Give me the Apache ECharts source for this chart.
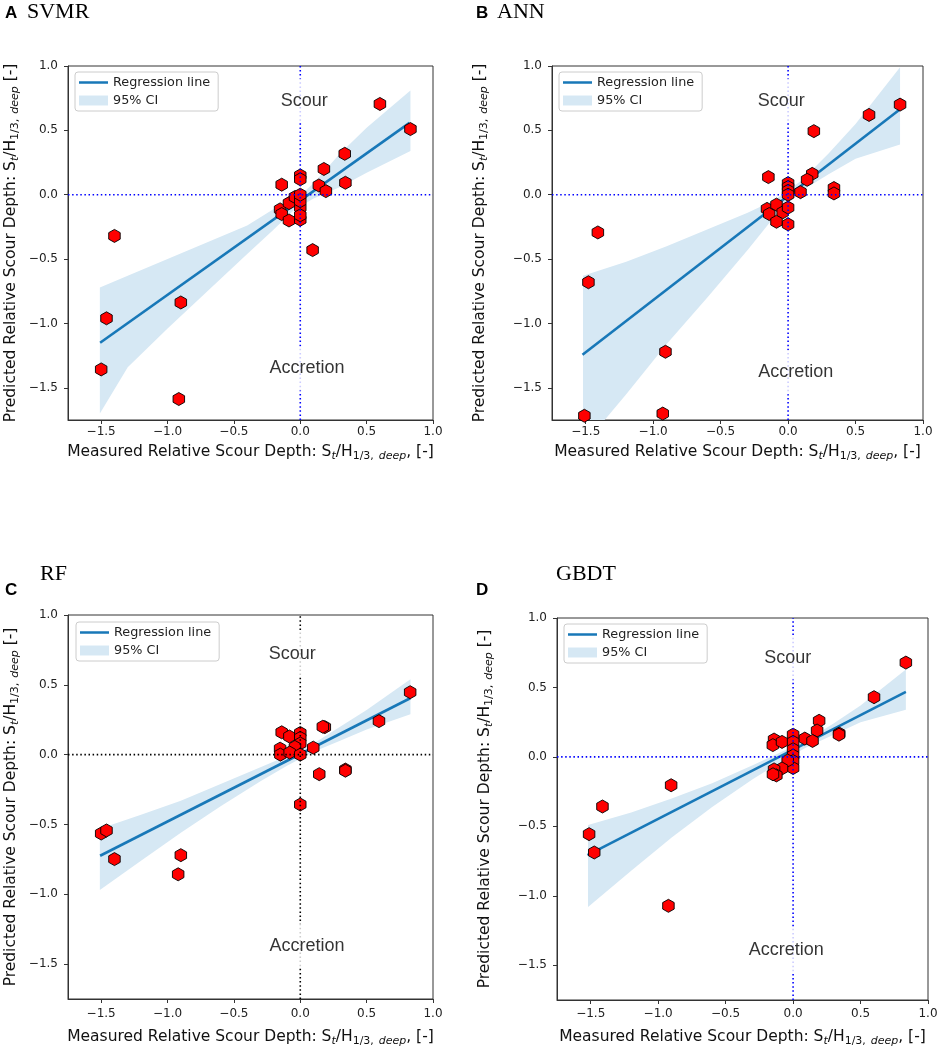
<!DOCTYPE html>
<html><head><meta charset="utf-8">
<script src="https://cdn.jsdelivr.net/npm/echarts@6/dist/echarts.min.js"></script>
<style>html,body{margin:0;padding:0;background:#fff}#c{width:941px;height:1049px}</style>
</head><body><div id="c"></div><script>
// ---- ticks ----
const tickValues = [-1.5, -1.0, -0.5, 0.0, 0.5, 1.0];

// ---- A: SVMR ----
const svmrMeasured  = [0.60, 0.83, 0.335, 0.178, -0.14, 0.0, 0.0, 0.14, 0.193, 0.34, -0.152, -0.14, -0.085, -0.04, -0.085, 0.0, 0.0, 0.0, 0.0, 0.0, 0.093, -1.40, -1.46, -0.90, -1.50, -0.915];
const svmrPredicted = [0.705, 0.51, 0.318, 0.20, 0.078, 0.15, 0.12, 0.072, 0.028, 0.093, -0.114, -0.15, -0.065, -0.018, -0.20, -0.194, -0.10, -0.16, -0.05, 0.0, -0.43, -0.32, -0.96, -0.837, -1.357, -1.587];
const svmrRegX = [-1.508, 0.823];
const svmrRegY = [-1.15, 0.558];
const svmrCiX     = [-1.51, -1.3, -1.0, -0.7, -0.4, -0.2, -0.05, 0.1, 0.3, 0.5, 0.83];
const svmrCiUpper = [-0.72, -0.63, -0.50, -0.37, -0.24, -0.11, -0.05, 0.09, 0.32, 0.52, 0.81];
const svmrCiLower = [-1.70, -1.34, -1.04, -0.75, -0.46, -0.27, -0.12, -0.03, 0.06, 0.17, 0.34];

// ---- B: ANN ----
const annMeasured  = [0.83, 0.60, 0.191, -0.146, 0.179, 0.141, 0.0, 0.0, 0.0, 0.0, 0.092, 0.34, 0.34, -0.156, -0.14, -0.086, -0.04, 0.0, -0.086, 0.0, -1.41, -1.48, -0.909, -1.51, -0.929];
const annPredicted = [0.70, 0.62, 0.494, 0.137, 0.162, 0.116, 0.09, 0.06, 0.03, 0.0, 0.02, 0.052, 0.01, -0.11, -0.15, -0.077, -0.137, -0.10, -0.21, -0.23, -0.293, -0.68, -1.22, -1.717, -1.70];
const annRegX = [-1.524, 0.83];
const annRegY = [-1.243, 0.664];
const annCiX     = [-1.52, -1.2, -0.9, -0.6, -0.3, -0.1, 0.1, 0.3, 0.5, 0.83];
const annCiUpper = [-0.63, -0.52, -0.40, -0.27, -0.14, -0.04, 0.11, 0.32, 0.55, 0.99];
const annCiLower = [-1.95, -1.55, -1.16, -0.80, -0.43, -0.17, 0.03, 0.16, 0.28, 0.39];

// ---- C: RF ----
const rfMeasured  = [0.828, 0.593, 0.185, 0.17, -0.14, -0.082, 0.0, 0.0, 0.0, -0.04, 0.098, -0.152, -0.15, -0.08, 0.0, 0.143, 0.34, 0.34, 0.0, -1.50, -1.46, -1.40, -0.90, -0.92];
const rfPredicted = [0.447, 0.24, 0.197, 0.20, 0.16, 0.13, 0.155, 0.12, 0.08, 0.055, 0.05, 0.043, 0.0, 0.015, 0.0, -0.14, -0.107, -0.115, -0.357, -0.565, -0.543, -0.748, -0.72, -0.857];
const rfRegX = [-1.508, 0.828];
const rfRegY = [-0.724, 0.404];
const rfCiX     = [-1.51, -1.2, -0.9, -0.6, -0.3, -0.1, 0.1, 0.3, 0.5, 0.83];
const rfCiUpper = [-0.53, -0.43, -0.33, -0.21, -0.09, -0.01, 0.08, 0.20, 0.32, 0.54];
const rfCiLower = [-0.97, -0.76, -0.56, -0.37, -0.19, -0.08, 0.02, 0.10, 0.18, 0.29];

// ---- D: GBDT ----
const gbdtMeasured  = [0.836, 0.60, 0.193, 0.178, 0.342, 0.34, 0.087, 0.144, -0.141, -0.15, -0.082, 0.0, 0.0, 0.0, 0.0, 0.0, 0.0, -0.04, -0.082, -0.141, -0.124, -0.149, -0.904, -1.413, -1.512, -1.474, -0.924];
const gbdtPredicted = [0.679, 0.43, 0.26, 0.19, 0.168, 0.16, 0.132, 0.115, 0.125, 0.085, 0.108, 0.16, 0.108, 0.055, 0.01, -0.03, -0.08, -0.026, -0.083, -0.09, -0.133, -0.125, -0.204, -0.357, -0.556, -0.688, -1.072];
const gbdtRegX = [-1.524, 0.836];
const gbdtRegY = [-0.707, 0.468];
const gbdtCiX     = [-1.52, -1.2, -0.9, -0.6, -0.3, -0.1, 0.1, 0.3, 0.5, 0.836];
const gbdtCiUpper = [-0.49, -0.40, -0.30, -0.19, -0.06, 0.03, 0.12, 0.24, 0.37, 0.63];
const gbdtCiLower = [-1.08, -0.82, -0.58, -0.36, -0.16, -0.04, 0.07, 0.16, 0.25, 0.34];

const legendNames = ['Regression line', '95% CI'];
const quadrantLabels = ['Scour', 'Accretion'];

// ---- layout / style ----
const LINE_COLOR = '#1878b8';
const CI_COLOR = '#d6e8f4';
const panels = [
  { measured: svmrMeasured, predicted: svmrPredicted, regX: svmrRegX, regY: svmrRegY, ciX: svmrCiX, ciU: svmrCiUpper, ciL: svmrCiLower,
    grid: {left: 68, top: 66, width: 365, height: 354}, zeroColor: '#0000ff', labelPos: [[0.03, 0.73], [0.05, -1.35]],
    legend: {left: 75, top: 72}, yNameGap: 47, xNameGap: 22, xLabelMargin: 6, yLabelMargin: 10 },
  { measured: annMeasured, predicted: annPredicted, regX: annRegX, regY: annRegY, ciX: annCiX, ciU: annCiUpper, ciL: annCiLower,
    grid: {left: 552, top: 66, width: 371, height: 354}, zeroColor: '#0000ff', labelPos: [[-0.05, 0.73], [0.056, -1.38]],
    legend: {left: 559, top: 72}, yNameGap: 62, xNameGap: 22, xLabelMargin: 6, yLabelMargin: 10 },
  { measured: rfMeasured, predicted: rfPredicted, regX: rfRegX, regY: rfRegY, ciX: rfCiX, ciU: rfCiUpper, ciL: rfCiLower,
    grid: {left: 68, top: 615, width: 365, height: 384}, zeroColor: '#000000', labelPos: [[-0.06, 0.72], [0.05, -1.37]],
    legend: {left: 76, top: 622}, yNameGap: 47, xNameGap: 28, xLabelMargin: 9, yLabelMargin: 10 },
  { measured: gbdtMeasured, predicted: gbdtPredicted, regX: gbdtRegX, regY: gbdtRegY, ciX: gbdtCiX, ciU: gbdtCiUpper, ciL: gbdtCiLower,
    grid: {left: 557, top: 618, width: 371, height: 382}, zeroColor: '#0000ff', labelPos: [[-0.04, 0.715], [-0.05, -1.39]],
    legend: {left: 564, top: 624}, yNameGap: 62, xNameGap: 27, xLabelMargin: 8, yLabelMargin: 10 }
];

const fmt = v => (Math.abs(v) < 1e-9 ? '0.0' : v.toFixed(1).replace('-', '\u2212'));
const richSub = {
  s:  {fontSize: 11, lineHeight: 10, verticalAlign: 'bottom', fontFamily: 'DejaVu Sans', color: '#111'},
  si: {fontSize: 11, lineHeight: 10, verticalAlign: 'bottom', fontFamily: 'DejaVu Sans', fontStyle: 'italic', color: '#111'}
};
const hexagon = 'path://M0,-10 L8.66,-5 L8.66,5 L0,10 L-8.66,5 L-8.66,-5 Z';
const lineIcon = 'path://M0,0 L30,0 L30,2.6 L0,2.6 Z';

const grids = [], xAxes = [], yAxes = [], series = [], legends = [];
panels.forEach((p, i) => {
  grids.push(Object.assign({show: true, borderColor: '#333', borderWidth: 1, backgroundColor: '#fff'}, p.grid));
  const common = {
    type: 'value', gridIndex: i, min: -1.75, max: 1.0, nameLocation: 'middle',
    axisLine: {show: true, onZero: false, lineStyle: {color: '#333', width: 1}},
    axisTick: {show: true, length: 4, lineStyle: {color: '#333'}, customValues: tickValues},
    splitLine: {show: false},
    nameTextStyle: {fontFamily: 'DejaVu Sans', fontSize: 15.5, lineHeight: 20, color: '#111', rich: richSub}
  };
  xAxes.push(Object.assign({}, common, {
    name: 'Measured Relative Scour Depth: S{si|t}/H{s|1/3,} {si|deep}, [-]', nameGap: p.xNameGap,
    axisLabel: {customValues: tickValues, formatter: fmt, fontFamily: 'DejaVu Sans', fontSize: 12, color: '#222', margin: p.xLabelMargin}
  }));
  yAxes.push(Object.assign({}, common, {
    name: 'Predicted Relative Scour Depth: S{si|t}/H{s|1/3,} {si|deep} [-]', nameGap: p.yNameGap,
    axisLabel: {customValues: tickValues, formatter: fmt, fontFamily: 'DejaVu Sans', fontSize: 12, color: '#222', margin: p.yLabelMargin}
  }));
  // CI band
  series.push({
    type: 'custom', name: legendNames[1], xAxisIndex: i, yAxisIndex: i, silent: true, z: 1,
    itemStyle: {color: CI_COLOR},
    data: [[p.ciX[0], p.ciU[0]]],
    encode: {x: 0, y: 1},
    renderItem: (params, api) => {
      const pts = [];
      for (let k = 0; k < p.ciX.length; k++) pts.push(api.coord([p.ciX[k], p.ciU[k]]));
      for (let k = p.ciX.length - 1; k >= 0; k--) pts.push(api.coord([p.ciX[k], p.ciL[k]]));
      const cs = params.coordSys;
      return {type: 'polygon', shape: {points: pts}, style: {fill: CI_COLOR},
        clipPath: {type: 'rect', shape: {x: cs.x, y: cs.y, width: cs.width, height: cs.height}}};
    }
  });
  // regression line
  series.push({
    type: 'line', name: legendNames[0], xAxisIndex: i, yAxisIndex: i, z: 2, symbol: 'none', silent: true,
    lineStyle: {color: LINE_COLOR, width: 2.6}, itemStyle: {color: LINE_COLOR},
    data: p.regX.map((x, k) => [x, p.regY[k]])
  });
  // points
  series.push({
    type: 'scatter', name: 'data', xAxisIndex: i, yAxisIndex: i, z: 3, symbol: hexagon, symbolSize: [11.5, 13],
    itemStyle: {color: '#ff0000', borderColor: '#000', borderWidth: 0.9, opacity: 1},
    emphasis: {disabled: true},
    data: p.measured.map((x, k) => [x, p.predicted[k]])
  });
  // zero lines
  const zl = {color: p.zeroColor, width: 1.6, type: [1.5, 2.6]};
  series.push({type: 'line', name: 'zeroV', xAxisIndex: i, yAxisIndex: i, z: 4, symbol: 'none', silent: true,
    lineStyle: zl, data: [[0, -1.75], [0, 1.0]]});
  series.push({type: 'line', name: 'zeroH', xAxisIndex: i, yAxisIndex: i, z: 4, symbol: 'none', silent: true,
    lineStyle: zl, data: [[-1.75, 0], [1.0, 0]]});
  // quadrant text
  series.push({
    type: 'scatter', name: 'labels', xAxisIndex: i, yAxisIndex: i, z: 10, symbolSize: 1, silent: true,
    itemStyle: {color: 'rgba(0,0,0,0)'},
    label: {show: true, position: 'inside', formatter: '{b}', fontFamily: 'Liberation Sans', fontSize: 18, color: '#000',
      backgroundColor: '#fff', padding: [13, 4]},
    data: quadrantLabels.map((n, k) => ({name: n, value: p.labelPos[k]}))
  });
  legends.push({
    orient: 'vertical', left: p.legend.left, top: p.legend.top, padding: [4, 8, 4, 4], itemGap: 5,
    itemWidth: 29, itemHeight: 10, backgroundColor: '#fff', borderColor: '#cccccc', borderWidth: 1, borderRadius: 3,
    textStyle: {fontFamily: 'DejaVu Sans', fontSize: 12.8, color: '#222'},
    selectedMode: false, symbolKeepAspect: true,
    data: [{name: legendNames[0], icon: lineIcon}, {name: legendNames[1], icon: 'rect'}]
  });
});

const titleBold = {fontFamily: 'Liberation Sans', fontWeight: 'bold', fontSize: 17, color: '#000'};
const titleSerif = {fontFamily: 'Liberation Serif', fontWeight: 'normal', fontSize: 22, color: '#000'};
const titles = [
  {text: 'A', left: 5, top: 5, padding: 0, textStyle: titleBold},
  {text: 'SVMR', left: 27, top: 1, padding: 0, textStyle: titleSerif},
  {text: 'B', left: 476, top: 5, padding: 0, textStyle: titleBold},
  {text: 'ANN', left: 497, top: 1, padding: 0, textStyle: titleSerif},
  {text: 'RF', left: 40, top: 563, padding: 0, textStyle: titleSerif},
  {text: 'C', left: 5, top: 582, padding: 0, textStyle: titleBold},
  {text: 'GBDT', left: 556, top: 563, padding: 0, textStyle: titleSerif},
  {text: 'D', left: 476, top: 582, padding: 0, textStyle: titleBold}
];

const chart = echarts.init(document.getElementById('c'), null, {renderer: 'canvas'});
chart.setOption({
  animation: false,
  backgroundColor: '#fff',
  title: titles,
  legend: legends,
  grid: grids,
  xAxis: xAxes,
  yAxis: yAxes,
  series: series
});
</script></body></html>
